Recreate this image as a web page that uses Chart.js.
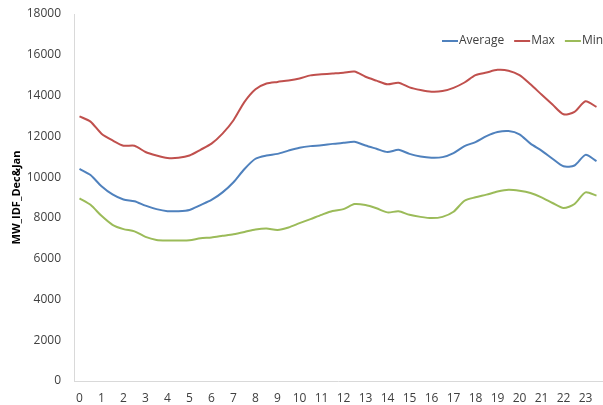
<!DOCTYPE html>
<html>
<head>
<meta charset="utf-8">
<script src="https://cdn.jsdelivr.net/npm/chart.js@4.4.0/dist/chart.umd.min.js"></script>
<style>
  html, body { margin: 0; padding: 0; background: #fff; }
  #wrap { width: 603px; height: 405px; position: relative; }
</style>
</head>
<body>
<div id="wrap"><canvas id="chart"></canvas></div>
<script>
// half-hour slots, 0 .. 23.5
const slots = ['0','0.5','1','1.5','2','2.5','3','3.5','4','4.5','5','5.5',
  '6','6.5','7','7.5','8','8.5','9','9.5','10','10.5','11','11.5',
  '12','12.5','13','13.5','14','14.5','15','15.5','16','16.5','17','17.5',
  '18','18.5','19','19.5','20','20.5','21','21.5','22','22.5','23','23.5'];

const average = [10400, 10100, 9550, 9150, 8900, 8820, 8600, 8430, 8330, 8330, 8390, 8630,
  8880, 9250, 9750, 10400, 10900, 11060, 11140, 11300, 11440, 11520, 11560, 11630,
  11680, 11730, 11550, 11390, 11230, 11340, 11140, 11010, 10950, 10980, 11180, 11520,
  11720, 12010, 12210, 12260, 12100, 11640, 11300, 10900, 10530, 10570, 11090, 10780];

const maxLoad = [12980, 12720, 12130, 11800, 11540, 11540, 11230, 11060, 10940, 10950, 11060, 11340,
  11640, 12130, 12790, 13690, 14310, 14590, 14670, 14740, 14840, 14990, 15040, 15080,
  15120, 15180, 14920, 14730, 14550, 14630, 14400, 14270, 14190, 14220, 14380, 14640,
  15000, 15130, 15260, 15220, 15000, 14550, 14050, 13560, 13080, 13200, 13720, 13440];

const minLoad = [8960, 8640, 8100, 7660, 7450, 7340, 7070, 6920, 6890, 6890, 6900, 7000,
  7040, 7120, 7200, 7310, 7430, 7480, 7410, 7530, 7740, 7940, 8150, 8340,
  8430, 8680, 8630, 8470, 8270, 8320, 8150, 8050, 7990, 8050, 8300, 8840,
  9010, 9140, 9290, 9380, 9330, 9220, 9010, 8730, 8480, 8680, 9250, 9090];

const seriesNames = ['Average', 'Max', 'Min'];
const seriesColors = ['#4F81BD', '#C0504D', '#9BBB59'];

const textColor = '#404040';
const axisColor = '#d9d9d9';
const fontFamily = '"Open Sans", "Liberation Sans", sans-serif';

// legend drawn inside the plot, top right
const insideLegend = {
  id: 'insideLegend',
  afterDraw(chart) {
    const ctx = chart.ctx;
    ctx.save();
    ctx.font = '12px ' + fontFamily;
    ctx.textBaseline = 'middle';
    ctx.textAlign = 'left';
    const y = 41;
    let x = 442;
    seriesNames.forEach((name, i) => {
      ctx.strokeStyle = seriesColors[i];
      ctx.lineWidth = 2;
      ctx.beginPath();
      ctx.moveTo(x, y);
      ctx.lineTo(x + 16, y);
      ctx.stroke();
      ctx.fillStyle = textColor;
      ctx.fillText(name, x + 17, y);
      x += 17 + ctx.measureText(name).width + 10;
    });
    ctx.restore();
  }
};

const datasets = [average, maxLoad, minLoad].map((d, i) => ({
  label: seriesNames[i],
  data: d,
  borderColor: seriesColors[i],
  backgroundColor: seriesColors[i],
  borderWidth: 2,
  pointRadius: 0,
  tension: 0.25,
  fill: false
}));

new Chart(document.getElementById('chart'), {
  type: 'line',
  data: { labels: slots, datasets: datasets },
  options: {
    responsive: true,
    maintainAspectRatio: false,
    animation: false,
    layout: { padding: { top: 14, right: 1, left: 0, bottom: 0 } },
    plugins: {
      legend: { display: false },
      tooltip: { enabled: false }
    },
    scales: {
      x: {
        type: 'category',
        offset: true,
        grid: { display: false },
        border: { display: true, color: axisColor, width: 1 },
        ticks: {
          autoSkip: false,
          maxRotation: 0,
          padding: 2,
          color: textColor,
          font: { size: 12, family: fontFamily },
          callback: function (value, index) {
            const lab = this.getLabelForValue(value);
            return lab.indexOf('.') === -1 ? lab : '';
          }
        },
        afterFit: (scale) => { scale.height = 24; }
      },
      y: {
        min: 0,
        max: 18000,
        grid: { display: false },
        border: { display: true, color: axisColor, width: 1 },
        ticks: {
          stepSize: 2000,
          padding: 5,
          color: textColor,
          font: { size: 12, family: fontFamily },
          callback: (v) => String(v)
        },
        title: {
          display: true,
          text: 'MW_IDF_Dec&Jan',
          color: '#000',
          font: { size: 11, weight: 'bold', family: fontFamily },
          padding: { top: 10, bottom: 0 }
        },
        afterFit: (scale) => { scale.width = 74; }
      }
    }
  },
  plugins: [insideLegend]
});
</script>
</body>
</html>
